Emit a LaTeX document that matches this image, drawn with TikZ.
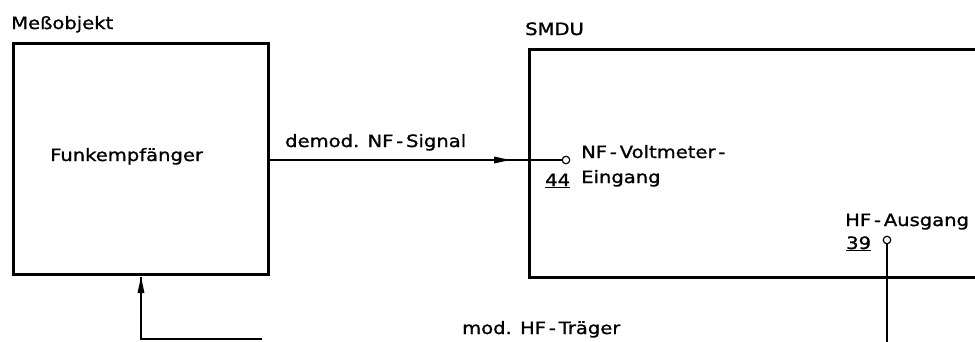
\documentclass[tikz,border=0pt]{standalone}
\usepackage{fontspec}
\setmainfont{DejaVu Sans}[FakeStretch=1.15,FakeBold=1.2]
\begin{document}
\begin{tikzpicture}[x=1pt,y=-1pt,
  box/.style={draw, line width=2.6pt, inner sep=0pt, anchor=north west},
  conn/.style={line width=1.3pt},
  head/.style={fill=black},
  term/.style={draw, circle, line width=1.2pt, minimum size=7.5pt, inner sep=0pt, fill=white},
  lbl/.style={anchor=base west, inner sep=0pt, font=\fontsize{17}{20}\selectfont}
]
\useasboundingbox (0,0) rectangle (975,341);
% boxes
\node[box, minimum width=255pt, minimum height=231pt] (obj) at (12,42) {};
\node[box, minimum width=480pt, minimum height=228pt] (smdu) at (528,48) {};
% labels
\node[lbl] (tobj) at (11,29) {Meßobjekt};
\node[lbl] (tsmdu) at (525,35) {SMDU};
\node[lbl] (tfunk) at (50,161) {Funkempfänger};
\node[lbl] (tdemod) at (285,147) {demod. NF\,-\,Signal};
\node[lbl] (tnf) at (581,158) {NF\,-\,Voltmeter\,-};
\node[lbl] (tein) at (581,183) {Eingang};
\node[lbl] (t44) at (545,186) {\underline{44}};
\node[lbl] (thf) at (845,226) {HF\,-\,Ausgang};
\node[lbl] (t39) at (846,249) {\underline{39}};
\node[lbl] (tmod) at (462,334) {mod. HF\,-\,Träger};
% free ends
\coordinate (c1) at (141,339);
\coordinate (c2) at (262,339);
\coordinate (c3) at (887,345);
\coordinate (a1) at (510,160);
\coordinate (a2) at (141,277);
% terminals
\node[term] (in44) at (566,160) {};
\node[term] (out39) at (887,240) {};
% connectors
\draw[conn] (obj.east |- in44) -- (in44.west);
\fill[head] (a1) -- ++(-16,-3.5) -- ++(0,7) -- cycle;
\draw[conn] (out39.south) -- (c3);
\draw[conn] (c2) -- (c1) -- (a2);
\fill[head] (a2) -- ++(-3.5,16) -- ++(7,0) -- cycle;
\end{tikzpicture}
\end{document}
